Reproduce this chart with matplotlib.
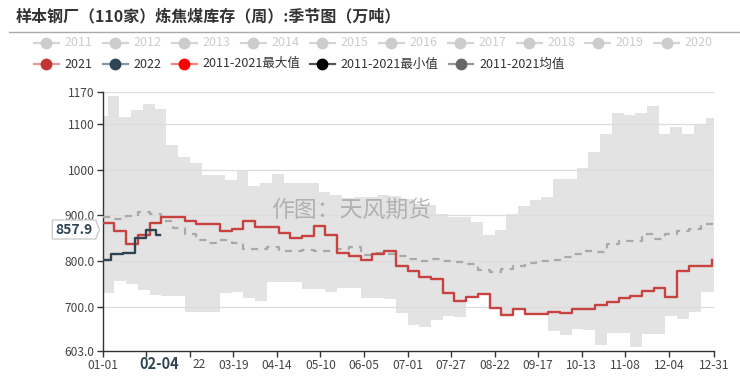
import numpy as np
import matplotlib
matplotlib.use("Agg")
import matplotlib.pyplot as plt
from matplotlib.lines import Line2D
from matplotlib.patches import Polygon

plt.rcParams['font.family'] = ['Noto Sans CJK SC', 'DejaVu Sans']

# ---- data (weekly) ----
week_days = np.arange(53) * 7            # day of year of each weekly point

y2021 = [884, 865, 838, 856, 884, 897, 897, 887, 882, 882, 865, 871, 888, 874, 874, 861,
         850, 855, 877, 858, 817, 810, 802, 816, 823, 788, 778, 766, 760, 730, 713, 721,
         727, 698, 682, 696, 685, 685, 688, 686, 696, 696, 704, 710, 718, 723, 734, 742,
         721, 778, 788, 790, 802]

days2022 = [0, 5, 12, 19, 26, 32, 34]
y2022 = [803, 816, 817, 850, 867, 858, 857.9]

mean_vals = [897, 891, 898, 908, 902, 888, 872, 860, 845, 840, 846, 839, 826, 826, 830, 823,
             821, 824, 821, 821, 826, 830, 813, 818, 815, 812, 804, 800, 805, 799, 797, 793,
             780, 776, 782, 790, 795, 800, 803, 808, 815, 822, 820, 837, 843, 843, 860, 849,
             860, 866, 871, 882, 889]

upper_days = np.concatenate([[0], np.arange(52) * 7 + 3])
upper_vals = [1117, 1161, 1115, 1130, 1144, 1132, 1053, 1027, 1014, 988, 988, 977, 996, 964,
              970, 991, 970, 970, 971, 952, 945, 937, 941, 940, 945, 942, 935, 925, 923, 902,
              897, 897, 886, 856, 868, 902, 921, 933, 940, 979, 979, 1003, 1038, 1077, 1125,
              1119, 1123, 1140, 1079, 1094, 1079, 1101, 1114]

lower_vals = [731, 757, 750, 737, 726, 724, 724, 688, 688, 688, 731, 733, 720, 713, 753, 754,
              754, 738, 738, 733, 742, 742, 720, 720, 716, 687, 660, 655, 671, 680, 677, 721,
              727, 698, 682, 696, 685, 685, 647, 637, 651, 650, 616, 642, 642, 612, 640, 640,
              680, 673, 689, 733, 733]

tick_days = [0, 26, 52, 78, 104, 130, 156, 182, 208, 234, 260, 286, 312, 338, 365]
tick_labels = ['01-01', '', '', '03-19', '04-14', '05-10', '06-05', '07-01', '07-27',
               '08-22', '09-17', '10-13', '11-08', '12-04', '12-31']
y_ticks = [603, 700, 800, 900, 1000, 1100, 1170]
y_tick_labels = ['603.0', '700.0', '800.0', '900.0', '1000', '1100', '1170']

legend_row1 = ['2011', '2012', '2013', '2014', '2015', '2016', '2017', '2018', '2019', '2020']
legend_row2 = ['2021', '2022', '2011-2021最大值', '2011-2021最小值', '2011-2021均值']

W, H = 740, 379


def fxy(px, py):
    return px / W, 1 - py / H


def step_xy(x, y):
    x = np.asarray(x, float)
    y = np.asarray(y, float)
    return np.repeat(x, 2)[1:], np.repeat(y, 2)[:-1]


fig = plt.figure(figsize=(W / 100, H / 100), dpi=100)
ax = fig.add_axes([102.7 / W, 1 - 351 / H, (714 - 102.7) / W, (351 - 92) / H])

# min-max band
ux, uy = step_xy(np.append(upper_days, 365), np.append(upper_vals, upper_vals[-1]))
lx, ly = step_xy(np.append(week_days, 365), np.append(lower_vals, lower_vals[-1]))
ax.fill(np.concatenate([ux, lx[::-1]]), np.concatenate([uy, ly[::-1]]),
        color='#e3e3e3', lw=0, zorder=1)

for v in [700, 800, 900, 1000, 1100, 1170]:
    ax.axhline(v, color='#dcdcdc', lw=0.9, zorder=2)

ax.plot(week_days, mean_vals, drawstyle='steps-post', color='#a9a9a9', lw=1.6,
        dashes=(3.2, 2.8), zorder=3)
ax.plot(week_days, y2021, drawstyle='steps-post', color='#c8423f', lw=1.7, zorder=4)
ax.plot(days2022, y2022, drawstyle='steps-post', color='#2f4554', lw=1.7, zorder=5)

ax.set_xlim(0, 365)
ax.set_ylim(603, 1170)
ax.set_xticks(tick_days)
ax.set_xticklabels(tick_labels)
ax.set_yticks(y_ticks)
ax.set_yticklabels(y_tick_labels)
for s in ['top', 'right']:
    ax.spines[s].set_visible(False)
for s in ['left', 'bottom']:
    ax.spines[s].set_color('#333333')
    ax.spines[s].set_linewidth(1)
ax.tick_params(axis='both', colors='#333333', labelcolor='#444444', labelsize=8.6,
               length=4, width=1, pad=2)

# visible part of the 02-22 label next to the highlighted date
fig.text(*fxy(199, 364), '22', fontsize=8.6, color='#444444', ha='center', va='center')

# title
fig.text(*fxy(16, 16), '样本钢厂（110家）炼焦煤库存（周）:季节图（万吨）', fontsize=11.5,
         fontweight='bold', color='#333333', va='center', ha='left')
fig.add_artist(Line2D([8.5 / W, 1], [1 - 32 / H] * 2, color='#aaaaaa', lw=1,
                      transform=fig.transFigure))

# legend
row1_text_x = [64, 133.3, 202, 271.3, 340, 409, 478, 547, 615.7, 684.5]
row2_text_x = [64, 133.3, 202, 340, 479]
row2_colors = ['#c23531', '#2f4554', '#ff0000', '#000000', '#666666']
row2_lines = ['#e39a98', '#8796a2', '#ff8080', '#555555', '#999999']
for name, tx in zip(legend_row1, row1_text_x):
    mx = tx - 18
    fig.add_artist(Line2D([(mx - 12.5) / W, (mx + 12.5) / W], [1 - 42.7 / H] * 2,
                          color='#d5d5d5', lw=1.6, transform=fig.transFigure))
    fig.add_artist(Line2D([mx / W], [1 - 42.7 / H], marker='o', markersize=7.5,
                          color='#cccccc', lw=0, transform=fig.transFigure))
    fig.text(*fxy(tx, 42.7), name, fontsize=9, color='#cccccc', va='center')
for name, tx, c, lc in zip(legend_row2, row2_text_x, row2_colors, row2_lines):
    mx = tx - 18
    fig.add_artist(Line2D([(mx - 12.5) / W, (mx + 12.5) / W], [1 - 64 / H] * 2,
                          color=lc, lw=1.6, transform=fig.transFigure))
    fig.add_artist(Line2D([mx / W], [1 - 64 / H], marker='o', markersize=7.5,
                          color=c, lw=0, transform=fig.transFigure))
    fig.text(*fxy(tx, 64), name, fontsize=9, color='#333333', va='center')

# watermark
fig.text(*fxy(351, 210), '作图：天风期货', fontsize=16.5, color='#888888', alpha=0.55,
         ha='center', va='center')

# axis pointer labels
box = [(52.3, 220), (95.7, 220), (99.5, 229.5), (95.7, 239), (52.3, 239)]
fig.add_artist(Polygon([fxy(x, y) for x, y in box], closed=True, facecolor='white',
                       edgecolor='#cccccc', lw=1, transform=fig.transFigure, zorder=3))
fig.text(*fxy(74, 229.5), '857.9', fontsize=10, fontweight='bold', color='#2f4554',
         ha='center', va='center', zorder=4)
fig.text(*fxy(159.3, 364), '02-04', fontsize=10.5, fontweight='bold', color='#2f4554',
         ha='center', va='center', zorder=4)

fig.savefig('out.png', dpi=100)
